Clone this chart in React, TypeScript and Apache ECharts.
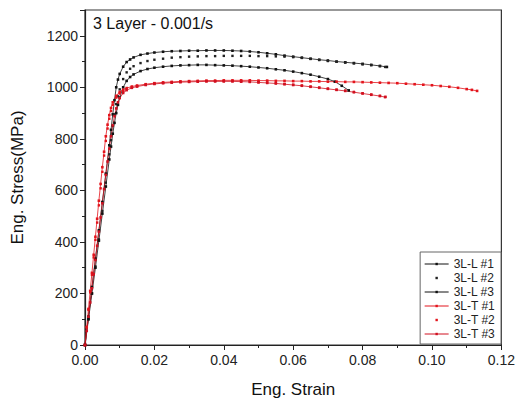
import React, { useEffect, useRef } from "react";
import * as echarts from "echarts";

const titleText = "3 Layer - 0.001/s";
const xName = "Eng. Strain";
const yName = "Eng. Stress(MPa)";
const seriesNames = ["3L-L #1", "3L-L #2", "3L-L #3", "3L-T #1", "3L-T #2", "3L-T #3"];

// [strain, stress]
const curveL1: number[][] = [
  [0, 0], [0.001, 110], [0.002, 225], [0.003, 335], [0.004, 445], [0.005, 555], [0.006, 665], [0.007, 775],
  [0.0075, 835], [0.008, 895], [0.0085, 950], [0.009, 1000], [0.0095, 1030], [0.010, 1052], [0.011, 1080],
  [0.012, 1098], [0.013, 1108], [0.014, 1116], [0.016, 1126], [0.018, 1131], [0.02, 1135], [0.0225, 1138],
  [0.025, 1140], [0.0275, 1141], [0.03, 1142], [0.0325, 1142], [0.035, 1143], [0.0375, 1143], [0.04, 1143],
  [0.0425, 1142], [0.045, 1141], [0.0475, 1139], [0.05, 1136], [0.0525, 1132], [0.055, 1128], [0.0575, 1123],
  [0.06, 1119], [0.0625, 1115], [0.065, 1111], [0.0675, 1107], [0.07, 1104], [0.0725, 1100], [0.075, 1097],
  [0.0775, 1094], [0.08, 1091], [0.0825, 1087], [0.085, 1083], [0.087, 1079],
];
const curveL2: number[][] = [
  [0, 0], [0.001, 100], [0.002, 200], [0.003, 305], [0.004, 410], [0.005, 520], [0.006, 630], [0.007, 740],
  [0.0075, 795], [0.008, 850], [0.0085, 895], [0.009, 935], [0.0095, 965], [0.010, 992], [0.011, 1032],
  [0.012, 1058], [0.013, 1072], [0.014, 1082], [0.016, 1094], [0.018, 1102], [0.02, 1107], [0.0225, 1111],
  [0.025, 1115], [0.0275, 1117], [0.03, 1119], [0.0325, 1120], [0.035, 1121], [0.0375, 1121], [0.04, 1122],
  [0.0425, 1122], [0.045, 1122], [0.0475, 1122], [0.05, 1121], [0.0525, 1121], [0.055, 1120], [0.0575, 1119],
  [0.06, 1117], [0.0625, 1114], [0.065, 1110], [0.0675, 1106], [0.07, 1102], [0.0725, 1099], [0.075, 1096],
  [0.0775, 1093], [0.08, 1089], [0.0825, 1086], [0.085, 1082], [0.0865, 1079],
];
const curveL3: number[][] = [
  [0, 0], [0.001, 100], [0.002, 200], [0.003, 300], [0.004, 405], [0.005, 510], [0.006, 615], [0.007, 720],
  [0.0075, 770], [0.008, 820], [0.0085, 862], [0.009, 900], [0.0095, 932], [0.010, 960], [0.011, 1000],
  [0.012, 1025], [0.013, 1040], [0.014, 1050], [0.016, 1063], [0.018, 1071], [0.02, 1076], [0.0225, 1080],
  [0.025, 1083], [0.0275, 1085], [0.03, 1086], [0.0325, 1087], [0.035, 1087], [0.0375, 1086], [0.04, 1085],
  [0.0425, 1084], [0.045, 1082], [0.0475, 1080], [0.05, 1077], [0.0525, 1074], [0.055, 1070], [0.0575, 1066],
  [0.06, 1061], [0.0625, 1055], [0.065, 1049], [0.0675, 1041], [0.07, 1032], [0.072, 1022], [0.074, 1006],
  [0.076, 988],
];
const curveT1: number[][] = [
  [0, 0], [0.0005, 70], [0.001, 140], [0.0015, 210], [0.002, 280], [0.0025, 350], [0.003, 420], [0.0035, 490],
  [0.004, 560], [0.0045, 625], [0.005, 690], [0.0055, 750], [0.006, 810], [0.0065, 855], [0.007, 892],
  [0.0075, 920], [0.008, 942], [0.009, 967], [0.010, 982], [0.011, 991], [0.012, 997], [0.0135, 1003],
  [0.015, 1007], [0.0175, 1012], [0.02, 1016], [0.0225, 1019], [0.025, 1021], [0.0275, 1023], [0.03, 1024],
  [0.0325, 1025], [0.035, 1026], [0.0375, 1026], [0.04, 1027], [0.0425, 1027], [0.045, 1027], [0.0475, 1027],
  [0.05, 1026], [0.0525, 1026], [0.055, 1025], [0.0575, 1025], [0.06, 1024], [0.0625, 1024], [0.065, 1023],
  [0.0675, 1023], [0.07, 1022], [0.0725, 1022], [0.075, 1021], [0.0775, 1021], [0.08, 1020], [0.0825, 1019],
  [0.085, 1018], [0.0875, 1017], [0.09, 1016], [0.0925, 1014], [0.095, 1012], [0.0975, 1010], [0.1, 1008],
  [0.1025, 1005], [0.105, 1002], [0.1075, 998], [0.11, 993], [0.1115, 990], [0.113, 986],
];
const curveT2: number[][] = [
  [0, 0], [0.0005, 68], [0.001, 136], [0.0015, 204], [0.002, 272], [0.0025, 340], [0.003, 408], [0.0035, 475],
  [0.004, 542], [0.0045, 608], [0.005, 672], [0.0055, 735], [0.006, 792], [0.0065, 840], [0.007, 878],
  [0.0075, 908], [0.008, 932], [0.009, 960], [0.010, 976], [0.011, 986], [0.012, 992], [0.0135, 999],
  [0.015, 1004], [0.0175, 1010], [0.02, 1014], [0.0225, 1017], [0.025, 1019], [0.0275, 1021], [0.03, 1022],
  [0.0325, 1023], [0.035, 1024], [0.0375, 1024], [0.04, 1024], [0.0425, 1024], [0.045, 1023], [0.0475, 1022],
  [0.05, 1020], [0.0525, 1018], [0.055, 1016], [0.0575, 1013], [0.06, 1010], [0.0625, 1007], [0.065, 1003],
  [0.0675, 999], [0.07, 995], [0.0725, 991], [0.075, 987], [0.0775, 982], [0.08, 977], [0.0825, 972],
  [0.085, 967], [0.0866, 963],
];
const curveT3: number[][] = [
  [0, 0], [0.0005, 55], [0.001, 110], [0.0015, 165], [0.002, 220], [0.0025, 275], [0.003, 330], [0.0035, 385],
  [0.004, 440], [0.0045, 495], [0.005, 550], [0.0055, 605], [0.006, 660], [0.0065, 712], [0.007, 762],
  [0.0075, 810], [0.008, 852], [0.0085, 888], [0.009, 918], [0.0095, 942], [0.010, 958], [0.011, 978],
  [0.012, 989], [0.0135, 998], [0.015, 1003], [0.0175, 1009], [0.02, 1013], [0.0225, 1016], [0.025, 1018],
  [0.0275, 1020], [0.03, 1021], [0.0325, 1022], [0.035, 1023], [0.0375, 1023], [0.04, 1023], [0.0425, 1023],
  [0.045, 1022], [0.0475, 1021], [0.05, 1019], [0.0525, 1017], [0.055, 1015], [0.0575, 1012], [0.06, 1009],
  [0.0625, 1006], [0.065, 1002], [0.0675, 998], [0.07, 994], [0.0725, 990], [0.075, 986], [0.0775, 981],
  [0.08, 976], [0.0825, 971], [0.085, 966], [0.0865, 962],
];

const curves = [curveL1, curveL2, curveL3, curveT1, curveT2, curveT3];
const colors = ["#111111", "#222222", "#111111", "#e3141c", "#e3141c", "#d01020"];
const lineWidths = [0.8, 0, 0.8, 0.8, 0, 0.8];

const FONT = "Liberation Sans, Arial, sans-serif";

export default function App() {
  const ref = useRef<HTMLDivElement>(null);
  useEffect(() => {
    if (!ref.current) return;
    const chart = echarts.init(ref.current, undefined, { renderer: "svg" });
    chart.setOption({
      animation: false,
      textStyle: { fontFamily: FONT },
      title: {
        text: titleText,
        left: 88,
        top: 10,
        textStyle: { fontSize: 16, fontWeight: "normal", color: "#111", fontFamily: FONT },
      },
      grid: {
        left: 85,
        right: 16,
        top: 10,
        bottom: 56,
        show: true,
        borderColor: "#333",
        borderWidth: 1.2,
        backgroundColor: "transparent",
      },
      legend: {
        orient: "vertical",
        right: 17,
        top: 252,
        itemWidth: 24,
        itemHeight: 3,
        itemGap: 0,
        padding: [5, 6, 3, 4],
        backgroundColor: "#fff",
        borderColor: "#666",
        borderWidth: 1,
        borderRadius: 0,
        lineStyle: { width: 1 },
        textStyle: { fontSize: 12, color: "#222", fontFamily: FONT, lineHeight: 14 },
        data: seriesNames,
      },
      xAxis: {
        type: "value",
        min: 0,
        max: 0.12,
        interval: 0.02,
        name: xName,
        nameLocation: "middle",
        nameGap: 36,
        nameTextStyle: { fontSize: 17, color: "#111", fontFamily: FONT },
        axisLine: { show: true, lineStyle: { color: "#222", width: 1.2 } },
        axisTick: { show: true, inside: false, length: 5, lineStyle: { color: "#222" } },
        minorTick: { show: true, splitNumber: 2, length: 3, lineStyle: { color: "#222" } },
        splitLine: { show: false },
        axisLabel: {
          fontSize: 14,
          color: "#222",
          margin: 8,
          fontFamily: FONT,
          formatter: (v: number) => v.toFixed(2),
        },
      },
      yAxis: {
        type: "value",
        min: 0,
        max: 1300,
        interval: 200,
        name: yName,
        nameLocation: "middle",
        nameGap: 59,
        nameTextStyle: { fontSize: 17, color: "#111", fontFamily: FONT },
        axisLine: { show: true, lineStyle: { color: "#222", width: 1.2 } },
        axisTick: { show: true, inside: false, length: 5, lineStyle: { color: "#222" } },
        minorTick: { show: true, splitNumber: 2, length: 3, lineStyle: { color: "#222" } },
        splitLine: { show: false },
        axisLabel: {
          fontSize: 14,
          color: "#222",
          margin: 7,
          fontFamily: FONT,
          formatter: (v: number) => (v > 1200 ? "" : String(v)),
        },
      },
      series: curves.map((data, i) => ({
        name: seriesNames[i],
        type: "line",
        data,
        showSymbol: true,
        symbol: "rect",
        symbolSize: lineWidths[i] === 0 ? 2.4 : 2.6,
        itemStyle: { color: colors[i] },
        lineStyle: { color: colors[i], width: lineWidths[i], opacity: lineWidths[i] === 0 ? 0 : 1 },
        emphasis: { disabled: true },
      })),
    });
    return () => chart.dispose();
  }, []);
  return (
    <div
      ref={ref}
      style={{ position: "fixed", left: 0, top: 0, width: 518, height: 403, background: "#fff" }}
    />
  );
}
